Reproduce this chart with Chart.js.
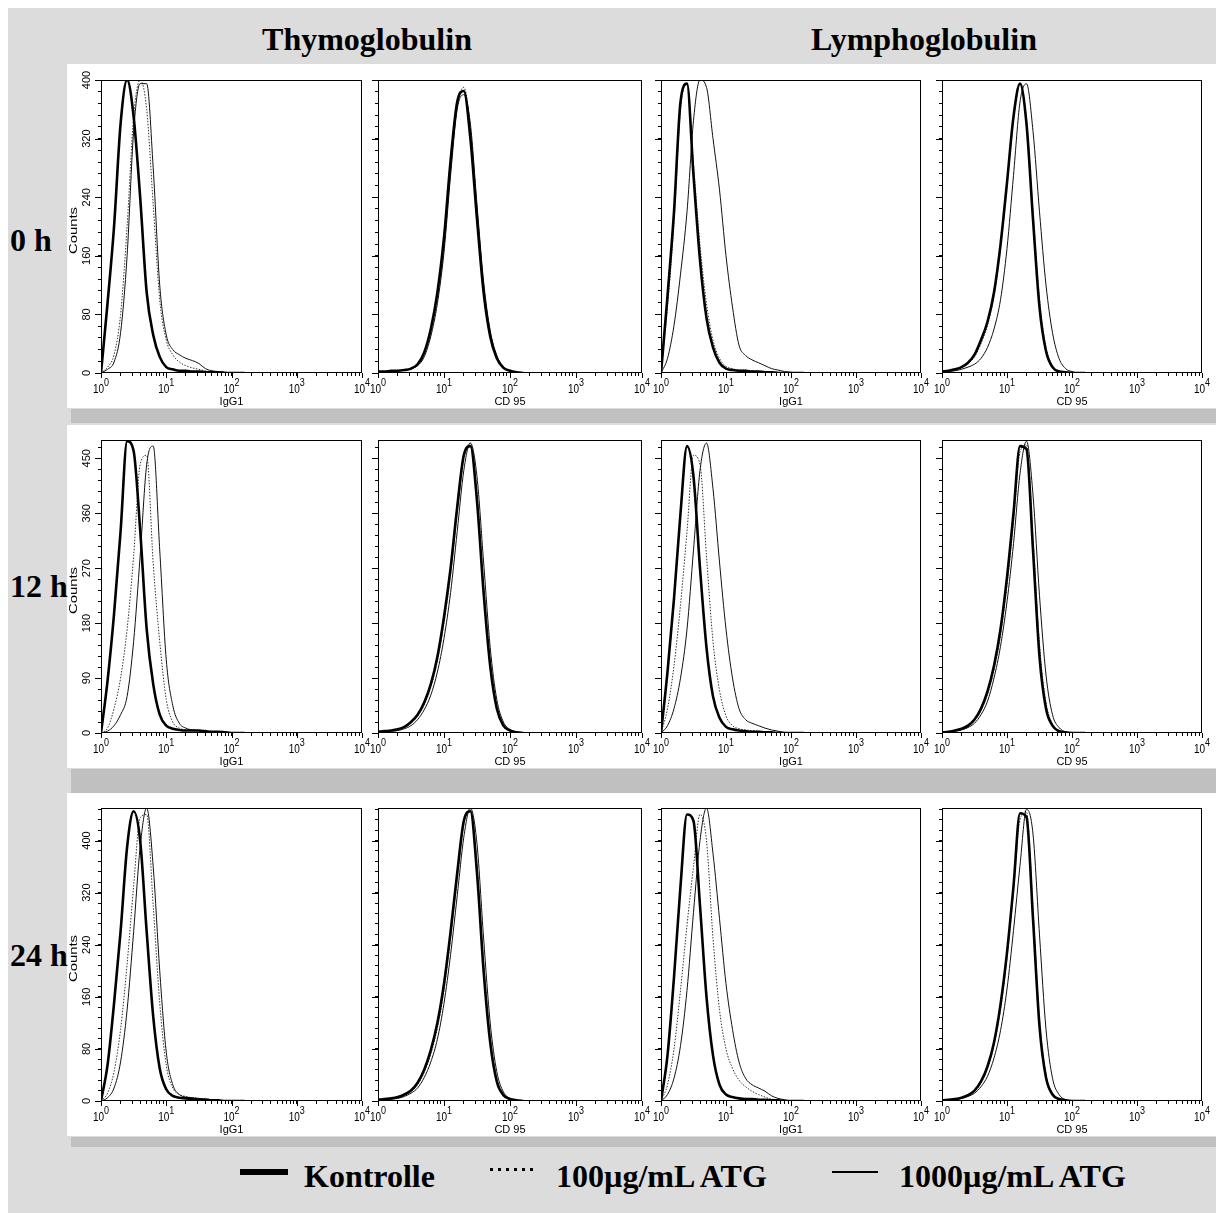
<!DOCTYPE html>
<html>
<head>
<meta charset="utf-8">
<script src="https://cdn.jsdelivr.net/npm/chart.js@4.4.1/dist/chart.umd.min.js"></script>
<style>
body { margin: 0; background: #fff; width: 1216px; height: 1213px; position: relative; overflow: hidden;
       font-family: "Liberation Serif", "Times New Roman", serif; }
.abs { position: absolute; }
#bg { left: 8px; top: 8px; width: 1208px; height: 1205px; background: #dcdcdc; }
.panel { background: #fff; }
.band { background: #c0c0c0; }
.txt { font-weight: bold; font-size: 32px; line-height: 32px; white-space: nowrap; color: #000; }
canvas { position: absolute; }
</style>
</head>
<body>
<div id="bg" class="abs"></div>

<script>
// ---- Data -----------------------------------------------------------------

// log10 of the fluorescence channel (10^0 .. 10^2.2), shared by every histogram
const logChannel = [0, 0.1, 0.2, 0.3, 0.4, 0.5, 0.6, 0.7, 0.8, 0.9, 1.0, 1.1,
                    1.2, 1.3, 1.4, 1.5, 1.6, 1.7, 1.8, 1.9, 2.0, 2.1, 2.2];

const xDecades   = [0, 1, 2, 3, 4];
const colTitles  = ['Thymoglobulin', 'Lymphoglobulin'];
const rowLabels  = ['0 h', '12 h', '24 h'];
const xTitles    = ['IgG1', 'CD 95', 'IgG1', 'CD 95'];
const rowMax     = [400, 480, 450];
const rowMajor   = [80, 90, 80];
const rowMinor   = [16, 18, 16];
const legendText = ['Kontrolle', '100µg/mL ATG', '1000µg/mL ATG'];

// 0 h
const ctrl_0h_thymoIgG   = [0,95,200,340,400,350,240,110,52,22,8,5,3,3,2,2,1,1,1,0,0,0,0];
const atg100_0h_thymoIgG = [0,8,25,80,200,350,400,360,230,100,45,25,15,10,7,5,3,2,1,1,0,0,0];
const atg1k_0h_thymoIgG  = [0,5,15,55,160,330,395,395,280,120,52,32,25,20,17,13,6,3,2,1,0,0,0];
const ctrl_0h_thymoCD95   = [2,2,3,3,4,6,12,28,60,110,185,290,370,385,320,210,110,50,20,7,3,1,0];
const atg100_0h_thymoCD95 = [1,2,2,3,4,6,11,25,55,100,170,275,365,390,335,225,120,55,22,8,3,1,0];
const atg1k_0h_thymoCD95  = [1,2,2,3,4,6,10,22,50,95,165,270,360,380,340,230,125,58,24,9,3,1,0];
const ctrl_0h_lymphoIgG   = [0,105,220,370,395,270,154,75,35,14,6,4,3,3,2,2,1,1,0,0,0,0,0];
const atg100_0h_lymphoIgG = [0,90,205,360,395,285,175,95,45,20,9,6,4,4,3,2,2,1,1,0,0,0,0];
const atg1k_0h_lymphoIgG  = [0,20,65,135,220,345,400,390,320,250,160,90,38,24,18,14,10,6,4,2,1,0,0];
const ctrl_0h_lymphoCD95   = [2,3,5,8,14,25,45,70,110,175,260,350,395,340,210,90,30,8,2,1,0,0,0];
const atg100_0h_lymphoCD95 = [2,3,5,8,13,22,40,65,105,170,255,345,395,345,220,100,35,10,3,1,0,0,0];
const atg1k_0h_lymphoCD95  = [1,2,3,5,8,12,20,35,60,100,170,270,370,395,330,220,120,55,20,6,2,0,0];

// 12 h
const ctrl_12h_thymoIgG   = [0,85,195,330,478,462,333,170,80,30,12,7,5,4,4,4,3,2,2,1,0,0,0];
const atg100_12h_thymoIgG = [0,8,40,90,170,290,440,455,278,150,55,18,8,5,4,3,2,2,1,0,0,0,0];
const atg1k_12h_thymoIgG  = [0,3,12,30,60,150,290,440,470,300,120,45,16,8,5,4,3,2,1,0,0,0,0];
const ctrl_12h_thymoCD95   = [2,3,4,6,10,18,30,50,80,125,190,270,370,455,470,380,230,110,40,12,4,1,0];
const atg100_12h_thymoCD95 = [2,3,4,5,9,16,28,46,75,118,180,260,360,450,475,395,245,120,45,14,5,1,0];
const atg1k_12h_thymoCD95  = [1,2,3,4,7,12,22,38,62,100,155,230,330,430,475,420,280,140,55,18,6,2,0];
const ctrl_12h_lymphoIgG   = [0,100,220,360,470,420,270,140,60,25,10,6,4,3,2,2,1,1,0,0,0,0,0];
const atg100_12h_lymphoIgG = [0,40,110,210,330,455,440,290,150,70,28,12,7,5,4,3,2,1,1,0,0,0,0];
const atg1k_12h_lymphoIgG  = [0,12,40,90,170,300,430,475,400,280,170,90,40,22,16,12,8,5,3,1,0,0,0];
const ctrl_12h_lymphoCD95   = [1,2,4,7,12,22,40,68,110,170,255,360,470,465,300,125,40,12,3,1,0,0,0];
const atg100_12h_lymphoCD95 = [1,2,4,6,11,20,37,63,103,160,242,345,460,472,320,145,50,15,4,1,0,0,0];
const atg1k_12h_lymphoCD95  = [1,2,3,5,9,16,30,52,90,142,215,310,425,478,390,225,95,30,9,2,0,0,0];

// 24 h
const ctrl_24h_thymoIgG   = [0,55,150,260,390,445,400,260,130,50,18,8,5,4,3,2,2,1,1,0,0,0,0];
const atg100_24h_thymoIgG = [0,12,45,110,210,330,435,440,300,150,55,20,10,7,5,4,3,2,1,0,0,0,0];
const atg1k_24h_thymoIgG  = [0,5,20,60,140,260,390,450,360,200,75,25,10,6,5,4,3,2,1,0,0,0,0];
const ctrl_24h_thymoCD95   = [2,3,4,6,10,16,28,48,78,120,180,260,350,430,445,350,200,90,30,9,3,1,0];
const atg100_24h_thymoCD95 = [2,3,4,5,9,15,25,44,72,112,170,250,340,425,448,365,215,100,35,11,3,1,0];
const atg1k_24h_thymoCD95  = [1,2,3,4,7,12,20,36,60,95,150,225,315,405,450,395,250,120,45,14,4,1,0];
const ctrl_24h_lymphoIgG   = [0,70,190,330,440,430,300,160,70,25,10,6,4,3,3,2,2,1,1,0,0,0,0];
const atg100_24h_lymphoIgG = [0,25,80,170,270,360,440,400,250,140,80,50,32,22,15,10,6,3,2,1,0,0,0];
const atg1k_24h_lymphoIgG  = [0,10,35,85,170,290,400,450,380,280,180,110,60,35,25,20,15,8,4,2,0,0,0];
const ctrl_24h_lymphoCD95   = [1,2,3,5,9,16,30,53,90,148,228,330,442,436,280,115,36,10,3,1,0,0,0];
const atg100_24h_lymphoCD95 = [1,2,3,5,8,15,28,50,86,140,220,322,432,444,295,125,40,12,3,1,0,0,0];
const atg1k_24h_lymphoCD95  = [1,2,3,4,7,12,22,38,66,108,172,262,362,448,410,255,110,35,10,2,0,0,0];

// panels[row][col] = [Kontrolle, 100, 1000]
const panels = [
    [[ctrl_0h_thymoIgG,  atg100_0h_thymoIgG,  atg1k_0h_thymoIgG],
     [ctrl_0h_thymoCD95, atg100_0h_thymoCD95, atg1k_0h_thymoCD95],
     [ctrl_0h_lymphoIgG, atg100_0h_lymphoIgG, atg1k_0h_lymphoIgG],
     [ctrl_0h_lymphoCD95, atg100_0h_lymphoCD95, atg1k_0h_lymphoCD95]],
    [[ctrl_12h_thymoIgG,  atg100_12h_thymoIgG,  atg1k_12h_thymoIgG],
     [ctrl_12h_thymoCD95, atg100_12h_thymoCD95, atg1k_12h_thymoCD95],
     [ctrl_12h_lymphoIgG, atg100_12h_lymphoIgG, atg1k_12h_lymphoIgG],
     [ctrl_12h_lymphoCD95, atg100_12h_lymphoCD95, atg1k_12h_lymphoCD95]],
    [[ctrl_24h_thymoIgG,  atg100_24h_thymoIgG,  atg1k_24h_thymoIgG],
     [ctrl_24h_thymoCD95, atg100_24h_thymoCD95, atg1k_24h_thymoCD95],
     [ctrl_24h_lymphoIgG, atg100_24h_lymphoIgG, atg1k_24h_lymphoIgG],
     [ctrl_24h_lymphoCD95, atg100_24h_lymphoCD95, atg1k_24h_lymphoCD95]]
];

// ---- Layout ---------------------------------------------------------------

const whiteRows = [[64, 408], [425, 768], [793, 1136]];
const bandRows  = [[409, 423], [769, 793], [1137, 1147]];
const plotRows  = [[80, 373], [440, 733], [808, 1101]];
const plotCols  = [[101, 362], [378, 642], [661, 921], [942, 1202]];
const PAD_L = 40, PAD_T = 16, PAD_R = 16, PAD_B = 40;

const SANS = '"Liberation Sans", Arial, sans-serif';

function addDiv(cls, css, text) {
    var d = document.createElement('div');
    d.className = 'abs ' + cls;
    Object.assign(d.style, css);
    if (text) d.textContent = text;
    document.body.appendChild(d);
    return d;
}

whiteRows.forEach(r => addDiv('panel', {left: '67px', top: r[0] + 'px', width: '1149px', height: (r[1] - r[0]) + 'px'}));
bandRows.forEach(r => addDiv('band', {left: '71px', top: r[0] + 'px', width: '1145px', height: (r[1] - r[0]) + 'px'}));

// column titles
addDiv('txt', {left: '217px', top: '23px', width: '300px', textAlign: 'center'}, colTitles[0]);
addDiv('txt', {left: '774px', top: '23px', width: '300px', textAlign: 'center'}, colTitles[1]);

// row labels
[224, 570, 939].forEach((t, i) => addDiv('txt', {left: '10px', top: t + 'px'}, rowLabels[i]));

// legend
addDiv('', {left: '240px', top: '1169px', width: '48px', height: '6px', background: '#000'});
addDiv('', {left: '490px', top: '1168px', width: '45px', height: '3px',
            background: 'repeating-linear-gradient(90deg,#000 0 3px,transparent 3px 8px)'});
addDiv('', {left: '832px', top: '1171px', width: '46px', height: '2px', background: '#000'});
addDiv('txt', {left: '304px', top: '1160px'}, legendText[0]);
addDiv('txt', {left: '556px', top: '1160px'}, legendText[1]);
addDiv('txt', {left: '899px', top: '1160px'}, legendText[2]);

// ---- Chart helpers --------------------------------------------------------

function stretchedText(ctx, text, x, y, font, sx, sy, rot) {
    ctx.save();
    ctx.translate(x, y);
    if (rot) ctx.rotate(rot);
    ctx.scale(sx, sy);
    ctx.font = font;
    ctx.fillText(text, 0, 0);
    ctx.restore();
}

// frame, long ticks and the axis texts of a cytometry panel
const histoFrame = {
    id: 'histoFrame',
    afterDraw(chart, args, o) {
        const ctx = chart.ctx, a = chart.chartArea;
        const xs = chart.scales.x, ys = chart.scales.y;
        ctx.save();
        ctx.strokeStyle = '#000';
        ctx.lineWidth = 1;
        ctx.strokeRect(a.left + 0.5, a.top + 0.5, a.right - a.left - 1, a.bottom - a.top - 1);

        ctx.beginPath();
        xDecades.forEach(d => {
            var px = Math.round(xs.getPixelForValue(Math.pow(10, d))) + 0.5;
            ctx.moveTo(px, a.bottom);
            ctx.lineTo(px, a.bottom + 5);
        });
        for (var v = 0; v <= o.max; v += o.major) {
            var py = Math.round(ys.getPixelForValue(v)) + 0.5;
            ctx.moveTo(a.left - 6, py);
            ctx.lineTo(a.left, py);
        }
        ctx.stroke();

        // decade labels 10^n
        ctx.fillStyle = '#000';
        ctx.textAlign = 'left';
        ctx.textBaseline = 'alphabetic';
        xDecades.forEach(d => {
            var px = xs.getPixelForValue(Math.pow(10, d));
            ctx.font = '10px ' + SANS;
            var w1 = ctx.measureText('10').width;
            ctx.font = '9px ' + SANS;
            var w2 = ctx.measureText(String(d)).width;
            var x0 = px - (w1 + w2) / 2;
            stretchedText(ctx, '10', x0, a.bottom + 20, '10px ' + SANS, 1, 1.25);
            stretchedText(ctx, String(d), x0 + w1, a.bottom + 13, '9px ' + SANS, 1, 1.2);
        });

        ctx.textAlign = 'center';
        ctx.font = '11px ' + SANS;
        ctx.fillText(o.xTitle, (a.left + a.right) / 2, a.bottom + 32);

        if (o.showY) {
            ctx.textBaseline = 'middle';
            for (var t = 0; t <= o.max; t += o.major) {
                stretchedText(ctx, String(t), a.left - 14, ys.getPixelForValue(t), '11px ' + SANS, 1, 1, -Math.PI / 2);
            }
            stretchedText(ctx, 'Counts', a.left - 27, (a.top + a.bottom) / 2 + 4, '11px ' + SANS, 1.35, 1, -Math.PI / 2);
        }
        ctx.restore();
    }
};

var xTickValues = [];
for (var e = 0; e < 4; e++) {
    for (var m = 1; m < 10; m++) xTickValues.push(m * Math.pow(10, e));
}
xTickValues.push(10000);

function series(vals, style) {
    return Object.assign({
        data: logChannel.map((lg, i) => ({x: Math.pow(10, lg), y: vals[i]})),
        pointRadius: 0,
        fill: false,
        cubicInterpolationMode: 'monotone'
    }, style);
}

function makePanel(row, col) {
    var r = plotRows[row], c = plotCols[col];
    var w = c[1] - c[0], h = r[1] - r[0];
    var cv = document.createElement('canvas');
    cv.width = w + PAD_L + PAD_R;
    cv.height = h + PAD_T + PAD_B;
    cv.style.left = (c[0] - PAD_L) + 'px';
    cv.style.top = (r[0] - PAD_T) + 'px';
    document.body.appendChild(cv);

    var curves = panels[row][col];
    var max = rowMax[row], minor = rowMinor[row];

    return new Chart(cv, {
        type: 'line',
        data: {
            datasets: [
                series(curves[0], {label: legendText[0], borderColor: '#000', borderWidth: 2.6, order: 0}),
                series(curves[2], {label: legendText[2], borderColor: '#111', borderWidth: 1, order: 1}),
                series(curves[1], {label: legendText[1], borderColor: '#333', borderWidth: 1, borderDash: [1.5, 1.5], order: 2})
            ]
        },
        options: {
            responsive: false,
            animation: false,
            devicePixelRatio: 1,
            layout: { padding: { left: 0, top: PAD_T, right: PAD_R, bottom: 0 } },
            scales: {
                x: {
                    type: 'logarithmic',
                    min: 1,
                    max: 10000,
                    afterBuildTicks: s => { s.ticks = xTickValues.map(v => ({value: v})); },
                    afterFit: s => { s.height = PAD_B; },
                    ticks: { display: false },
                    border: { display: false },
                    grid: { drawOnChartArea: false, drawTicks: true, tickLength: 3, color: '#000', lineWidth: 1 }
                },
                y: {
                    min: 0,
                    max: max,
                    afterBuildTicks: s => {
                        var t = [];
                        for (var v = 0; v <= max; v += minor) t.push({value: v});
                        s.ticks = t;
                    },
                    afterFit: s => { s.width = PAD_L; },
                    ticks: { display: false },
                    border: { display: false },
                    grid: { drawOnChartArea: false, drawTicks: true, tickLength: 3, color: '#000', lineWidth: 1 }
                }
            },
            plugins: {
                legend: { display: false },
                tooltip: { enabled: false },
                histoFrame: { max: max, major: rowMajor[row], showY: col === 0, xTitle: xTitles[col] }
            }
        },
        plugins: [histoFrame]
    });
}

for (var row = 0; row < 3; row++) {
    for (var col = 0; col < 4; col++) makePanel(row, col);
}
</script>
</body>
</html>
